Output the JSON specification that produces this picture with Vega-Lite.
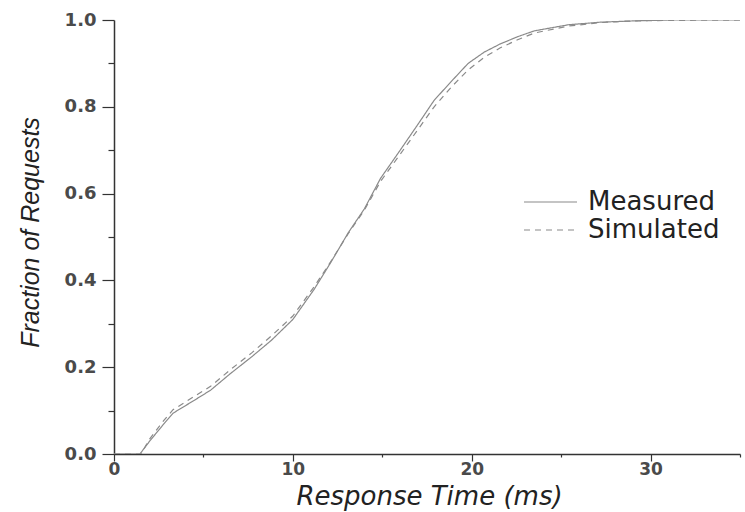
{
  "$schema": "https://vega.github.io/schema/vega-lite/v6.json",
  "width": 626,
  "height": 434,
  "autosize": {"type": "none"},
  "padding": {"left": 114, "top": 20, "right": 5, "bottom": 58},
  "background": "white",
  "config": {"view": {"stroke": null}},
  "data": {
    "values": [
      {"series": "Measured", "t": 0, "f": 0},
      {"series": "Measured", "t": 1.45, "f": 0},
      {"series": "Measured", "t": 2.0, "f": 0.03},
      {"series": "Measured", "t": 2.8, "f": 0.07},
      {"series": "Measured", "t": 3.3, "f": 0.094},
      {"series": "Measured", "t": 4.5, "f": 0.124},
      {"series": "Measured", "t": 5.4, "f": 0.147},
      {"series": "Measured", "t": 6.5, "f": 0.185},
      {"series": "Measured", "t": 7.7, "f": 0.224},
      {"series": "Measured", "t": 8.8, "f": 0.262},
      {"series": "Measured", "t": 10.0, "f": 0.31},
      {"series": "Measured", "t": 11.2, "f": 0.38},
      {"series": "Measured", "t": 12.1, "f": 0.44},
      {"series": "Measured", "t": 13.1, "f": 0.51},
      {"series": "Measured", "t": 14.0, "f": 0.565},
      {"series": "Measured", "t": 14.9, "f": 0.635},
      {"series": "Measured", "t": 15.9, "f": 0.694},
      {"series": "Measured", "t": 17.0, "f": 0.76},
      {"series": "Measured", "t": 17.9, "f": 0.815},
      {"series": "Measured", "t": 18.85, "f": 0.858},
      {"series": "Measured", "t": 19.8, "f": 0.9},
      {"series": "Measured", "t": 20.7, "f": 0.926},
      {"series": "Measured", "t": 21.6, "f": 0.945},
      {"series": "Measured", "t": 22.6, "f": 0.962},
      {"series": "Measured", "t": 23.5, "f": 0.975},
      {"series": "Measured", "t": 25.4, "f": 0.989},
      {"series": "Measured", "t": 27.2, "f": 0.995},
      {"series": "Measured", "t": 29.1, "f": 0.998},
      {"series": "Measured", "t": 31, "f": 1.0},
      {"series": "Measured", "t": 35, "f": 1.0},
      {"series": "Simulated", "t": 0, "f": 0},
      {"series": "Simulated", "t": 1.5, "f": 0},
      {"series": "Simulated", "t": 2.0, "f": 0.035},
      {"series": "Simulated", "t": 2.8, "f": 0.078},
      {"series": "Simulated", "t": 3.3, "f": 0.102},
      {"series": "Simulated", "t": 4.5, "f": 0.133},
      {"series": "Simulated", "t": 5.4, "f": 0.156},
      {"series": "Simulated", "t": 6.5, "f": 0.194},
      {"series": "Simulated", "t": 7.7, "f": 0.233},
      {"series": "Simulated", "t": 8.8, "f": 0.272},
      {"series": "Simulated", "t": 10.0, "f": 0.318},
      {"series": "Simulated", "t": 11.2, "f": 0.386},
      {"series": "Simulated", "t": 12.1, "f": 0.442},
      {"series": "Simulated", "t": 13.1, "f": 0.508},
      {"series": "Simulated", "t": 14.0, "f": 0.562},
      {"series": "Simulated", "t": 14.9, "f": 0.628},
      {"series": "Simulated", "t": 15.9, "f": 0.685},
      {"series": "Simulated", "t": 17.0, "f": 0.748},
      {"series": "Simulated", "t": 17.9, "f": 0.8},
      {"series": "Simulated", "t": 18.85, "f": 0.845},
      {"series": "Simulated", "t": 19.8, "f": 0.885},
      {"series": "Simulated", "t": 20.7, "f": 0.914},
      {"series": "Simulated", "t": 21.6, "f": 0.936},
      {"series": "Simulated", "t": 22.6, "f": 0.955},
      {"series": "Simulated", "t": 23.5, "f": 0.97},
      {"series": "Simulated", "t": 25.4, "f": 0.986},
      {"series": "Simulated", "t": 27.2, "f": 0.994},
      {"series": "Simulated", "t": 29.1, "f": 0.998},
      {"series": "Simulated", "t": 31, "f": 0.999},
      {"series": "Simulated", "t": 35, "f": 1.0}
    ]
  },
  "mark": {"type": "line", "strokeWidth": 1.2, "color": "#8a8a8a", "clip": true},
  "encoding": {
    "x": {
      "field": "t",
      "type": "quantitative",
      "scale": {"domain": [0, 35], "nice": false, "zero": false},
      "axis": {
        "values": [0, 5, 10, 15, 20, 25, 30, 35],
        "labelExpr": "datum.value % 10 === 0 ? datum.label : ''",
        "tickSize": {"condition": {"test": "datum.value % 10 === 0", "value": 7}, "value": 3},
        "grid": false,
        "labelFlush": false,
        "labelOverlap": false,
        "labelFont": "DejaVu Sans",
        "labelFontWeight": "bold",
        "labelFontSize": 17,
        "labelColor": "#4a4a4a",
        "labelPadding": 0,
        "domainColor": "#333",
        "domainWidth": 1.5,
        "tickColor": "#333",
        "tickWidth": 1.2,
        "title": "Response Time (ms)",
        "titleFont": "DejaVu Sans",
        "titleFontStyle": "italic",
        "titleFontWeight": "normal",
        "titleFontSize": 26,
        "titleColor": "#222",
        "titleX": 315,
        "titleY": 50,
        "titleBaseline": "alphabetic",
        "titleAlign": "center"
      }
    },
    "y": {
      "field": "f",
      "type": "quantitative",
      "scale": {"domain": [0, 1], "nice": false},
      "axis": {
        "values": [0, 0.1, 0.2, 0.3, 0.4, 0.5, 0.6, 0.7, 0.8, 0.9, 1.0],
        "format": ".1f",
        "labelExpr": "round(datum.value * 10) % 2 === 0 ? datum.label : ''",
        "tickSize": {"condition": {"test": "round(datum.value * 10) % 2 === 0", "value": 12}, "value": 6},
        "grid": false,
        "labelFlush": false,
        "labelOverlap": false,
        "labelFont": "DejaVu Sans",
        "labelFontWeight": "bold",
        "labelFontSize": 18,
        "labelColor": "#4a4a4a",
        "labelPadding": 6,
        "domainColor": "#333",
        "domainWidth": 1.5,
        "tickColor": "#333",
        "tickWidth": 1.2,
        "title": "Fraction of Requests",
        "titleFont": "Liberation Sans",
        "titleFontStyle": "italic",
        "titleFontWeight": "normal",
        "titleFontSize": 25,
        "titleColor": "#222",
        "titleX": -71,
        "titleY": 212,
        "titleAlign": "center"
      }
    },
    "strokeDash": {
      "field": "series",
      "type": "nominal",
      "scale": {"domain": ["Measured", "Simulated"], "range": [[1, 0], [6, 5]]},
      "legend": {
        "orient": "none",
        "legendX": 409,
        "legendY": 168,
        "title": null,
        "padding": 0,
        "offset": 0,
        "symbolType": "stroke",
        "symbolSize": 2809,
        "symbolStrokeColor": "#8a8a8a",
        "symbolStrokeWidth": 1.2,
        "clipHeight": 28,
        "rowPadding": 0,
        "labelOffset": 10,
        "labelFont": "DejaVu Sans",
        "labelFontSize": 26,
        "labelColor": "#222",
        "labelLimit": 300
      }
    }
  }
}
